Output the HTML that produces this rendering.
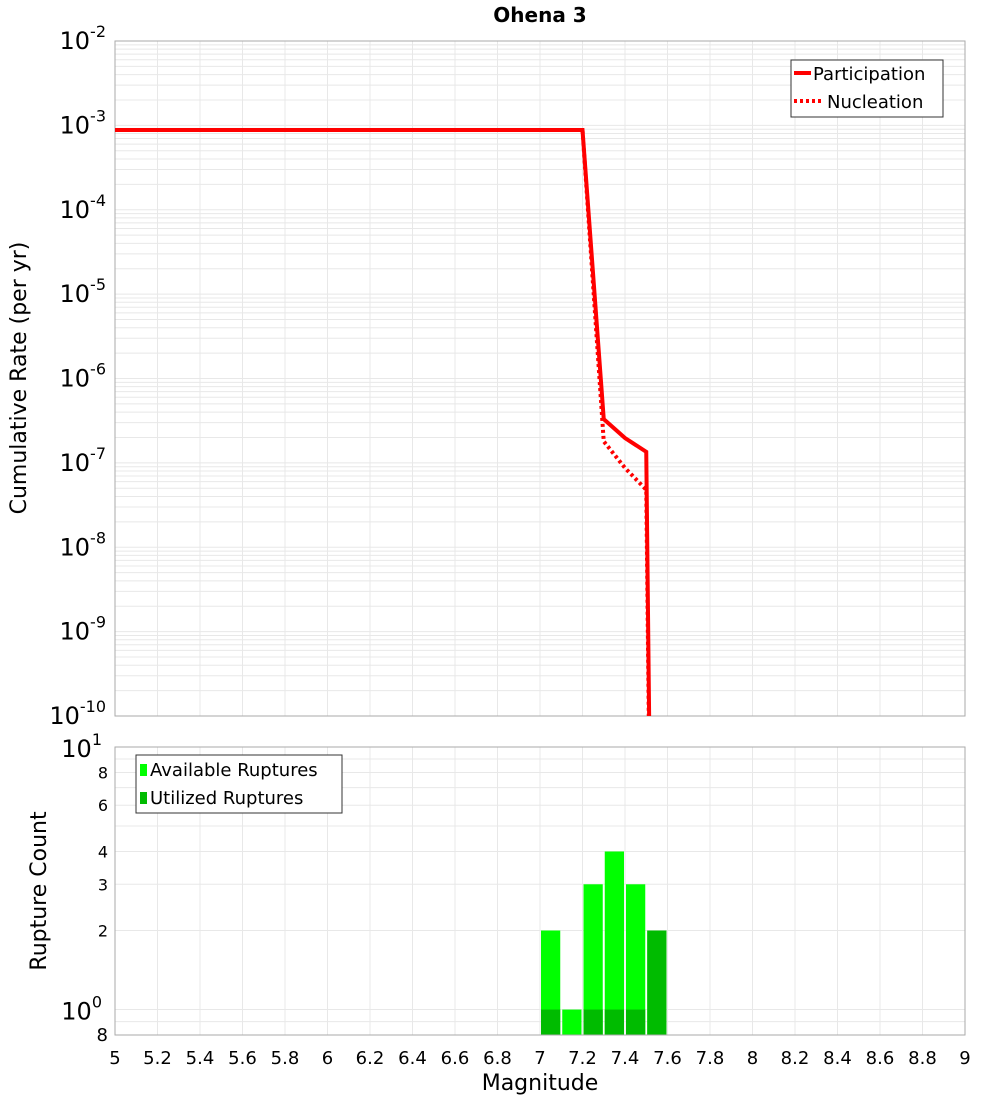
<!DOCTYPE html>
<html><head><meta charset="utf-8"><style>
body{margin:0;background:#fff;font-family:"Liberation Sans","DejaVu Sans",sans-serif}
svg text{font-family:"DejaVu Sans","Liberation Sans",sans-serif}
</style></head><body>
<svg id="chart" width="1000" height="1100" xmlns="http://www.w3.org/2000/svg">
<text x="540" y="22" text-anchor="middle" font-size="20" font-weight="bold">Ohena 3</text>
<g id="topg"></g><g id="botg"></g>
</svg>
<script>
const mags=[5,7.2,7.3,7.4,7.5,7.6];
const participation=[8.8e-4,8.8e-4,3.3e-7,1.97e-7,1.35e-7,1e-30];
const nucleation=[8.8e-4,8.8e-4,1.8e-7,8.7e-8,4.8e-8,1e-30];
const binCenters=[7.05,7.15,7.25,7.35,7.45,7.55];
const available=[2,1,3,4,3,2];
const utilized=[1,0,1,1,1,2];
const xTicks=[5,5.2,5.4,5.6,5.8,6,6.2,6.4,6.6,6.8,7,7.2,7.4,7.6,7.8,8,8.2,8.4,8.6,8.8,9];
const topExps=[-10,-9,-8,-7,-6,-5,-4,-3,-2];

const NS="http://www.w3.org/2000/svg";
const svg=document.getElementById('chart');
const X0=115,X1=965;
const xs=m=>X0+(m-5)/4*(X1-X0);
const TY0=41,TY1=716;
const ty=v=>TY1-(Math.log10(v)+10)/8*(TY1-TY0);
const BY0=747,BY1=1035,LMIN=Math.log10(0.8),LMAX=1;
const by=v=>BY1-(Math.log10(v)-LMIN)/(LMAX-LMIN)*(BY1-BY0);
function mk(tag,attrs,parent){const e=document.createElementNS(NS,tag);for(const k in attrs)e.setAttribute(k,attrs[k]);(parent||svg).appendChild(e);return e;}
const topG=document.getElementById('topg'),botG=document.getElementById('botg');

for(let e=-10;e<-2;e++)for(let k=1;k<10;k++){const y=ty(k*Math.pow(10,e));const l=mk('line',{x1:X0,x2:X1,y1:y,y2:y,stroke:'#e8e8e8','stroke-width':1},topG);

}
xTicks.forEach(m=>{const l=mk('line',{x1:xs(m),x2:xs(m),y1:TY0,y2:TY1,stroke:'#e8e8e8'},topG);


const l2=mk('line',{x1:xs(m),x2:xs(m),y1:BY0,y2:BY1,stroke:'#e8e8e8'},botG);


const t=mk('text',{x:xs(m),y:1064,'font-size':18,'text-anchor':'middle'},botG);t.textContent=String(m);

});
topExps.forEach(e=>{const t=mk('text',{x:106,y:ty(Math.pow(10,e))+8,'font-size':24,'text-anchor':'end'},topG);
t.innerHTML='10<tspan dy="-12" font-size="16">'+e+'</tspan>';

});
const fr=mk('rect',{x:X0,y:TY0,width:X1-X0,height:TY1-TY0,fill:'none',stroke:'#aaa'},topG);


const defs=mk('defs',{});const cp=mk('clipPath',{id:'tc'},defs);mk('rect',{x:X0,y:TY0,width:X1-X0,height:TY1-TY0},cp);
function line(vals,dash,name){const pts=mags.map((m,i)=>xs(m)+','+Math.min(5000,ty(vals[i]))).join(' ');
const p=mk('polyline',{points:pts,fill:'none',stroke:'#ff0000','stroke-width':4,'clip-path':'url(#tc)'},topG);
if(dash)p.setAttribute('stroke-dasharray','3,3');

}
line(nucleation,true,'nucleation-line');
line(participation,false,'participation-line');
const yt=mk('text',{x:26,y:378,'font-size':22,'text-anchor':'middle',transform:'rotate(-90 26 378)'},topG);yt.textContent='Cumulative Rate (per yr)';


const lg=mk('g',{},topG);


mk('rect',{x:791,y:60,width:152,height:57,fill:'#fff',stroke:'#333'},lg);
mk('line',{x1:794,x2:811,y1:73,y2:73,stroke:'#f00','stroke-width':4},lg);
mk('line',{x1:794,x2:821,y1:101,y2:101,stroke:'#f00','stroke-width':4,'stroke-dasharray':'3,3'},lg);
let t1=mk('text',{x:813,y:80,'font-size':18},lg);t1.textContent='Participation';
let t2=mk('text',{x:827,y:108,'font-size':18},lg);t2.textContent='Nucleation';

[0.8,0.9,1,2,3,4,5,6,7,8,9,10].forEach(v=>{const y=by(v);const l=mk('line',{x1:X0,x2:X1,y1:y,y2:y,stroke:'#e8e8e8'},botG);

});
[[0.8,'8',18],[2,'2',16],[3,'3',16],[4,'4',16],[6,'6',16],[8,'8',16]].forEach(a=>{const t=mk('text',{x:108,y:by(a[0])+6,'font-size':a[2],'text-anchor':'end'},botG);t.textContent=a[1];

});
[[1,'0'],[10,'1']].forEach(a=>{const t=mk('text',{x:102,y:by(a[0])+10,'font-size':24,'text-anchor':'end'},botG);t.innerHTML='10<tspan dy="-12" font-size="16">'+a[1]+'</tspan>';

});
binCenters.forEach((c,i)=>{const x=xs(c-0.05)+1,w=xs(0.1+5)-X0-2;
const r=mk('rect',{x:x,y:by(available[i]),width:w,height:BY1-by(available[i]),fill:'#00ff00'},botG);


if(utilized[i]>0){const u=mk('rect',{x:x,y:by(utilized[i]),width:w,height:BY1-by(utilized[i]),fill:'#00bb00'},botG);

}});
const fr2=mk('rect',{x:X0,y:BY0,width:X1-X0,height:BY1-BY0,fill:'none',stroke:'#aaa'},botG);


const yt2=mk('text',{x:46,y:891,'font-size':22,'text-anchor':'middle',transform:'rotate(-90 46 891)'},botG);yt2.textContent='Rupture Count';


const xt=mk('text',{x:540,y:1090,'font-size':22,'text-anchor':'middle'},botG);xt.textContent='Magnitude';


const lg2=mk('g',{},botG);


mk('rect',{x:136,y:755,width:206,height:58,fill:'#fff',stroke:'#333'},lg2);
mk('rect',{x:140,y:764,width:7,height:12,fill:'#00ff00'},lg2);
mk('rect',{x:140,y:792,width:7,height:12,fill:'#00bb00'},lg2);
let t3=mk('text',{x:150,y:776,'font-size':18},lg2);t3.textContent='Available Ruptures';
let t4=mk('text',{x:150,y:804,'font-size':18},lg2);t4.textContent='Utilized Ruptures';
</script>
</body></html>
